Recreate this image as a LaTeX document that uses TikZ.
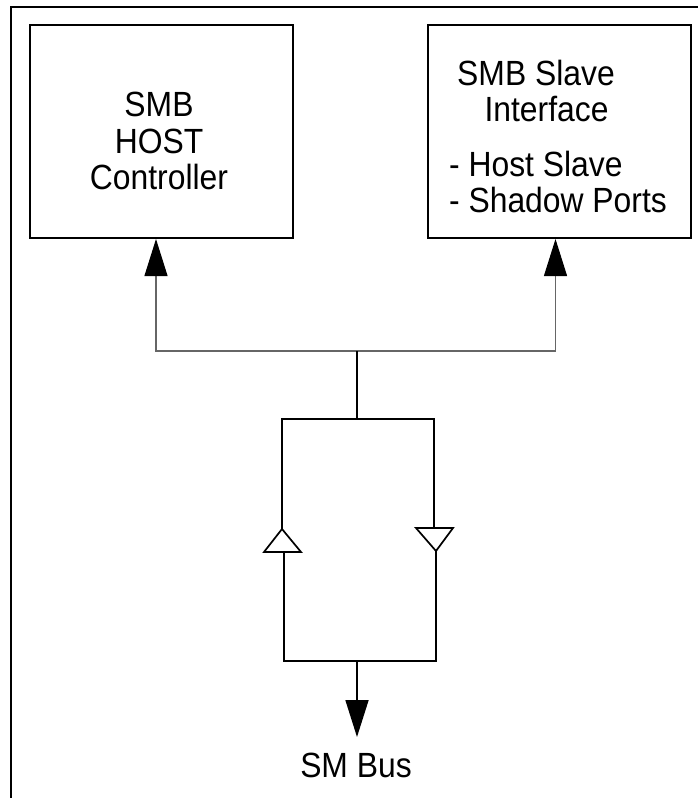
\documentclass[tikz,border=0pt]{standalone}
\usepackage{fontspec}
\setmainfont[FakeStretch=0.91]{Liberation Sans}
\usetikzlibrary{arrows.meta}
\tikzset{
  block/.style={draw, line width=2pt, minimum width=263pt, minimum height=213pt, inner sep=0pt},
  label/.style={inner sep=0pt, align=center, font=\fontsize{35}{36.5}\selectfont},
  wire/.style={line width=1.7pt},
  thinwire/.style={line width=1.1pt, black!60},
  bigtip/.style={-{Triangle[length=37pt, width=23pt, black]}},
  buffer/.style={draw, line width=1.7pt, fill=white, line join=miter}
}
\begin{document}
\begin{tikzpicture}[x=1pt, y=-1pt]
  \useasboundingbox (0,0) rectangle (698,798);

  %% Border.
  \draw [line width=2pt] (10.5,798) -- (10.5,6.5) -- (698,6.5);

  %% The two blocks:
  \node [block, anchor=north west] (host) at (29,24) {};
  \node [block, anchor=north west] (slave) at (427,24) {};
  \node [label] (hosttext) at (159,141) {SMB\\HOST\\Controller};
  \node [label] (slavetitle) at (536,91) {SMB Slave\\\hspace*{0.6em}Interface};
  \node [label, align=left] (slavelist) at (558,182) {- Host Slave\\- Shadow Ports};

  %% The connections to the blocks:
  \coordinate (junction) at (357,351);
  \draw [thinwire, bigtip] (junction) -| ([xshift=-5.5pt]host.south);
  \draw [thinwire, bigtip] (junction) -| ([xshift=-4pt]slave.south);

  %% The two buffers:
  \coordinate (split) at (357,419);
  \coordinate (upbuffer) at (282,529);
  \coordinate (upfoot) at (284,552);
  \coordinate (downbuffer) at (436,551);
  \coordinate (downtop) at (434,528);
  \coordinate (merge) at (357,661);
  \draw [wire] (junction) -- (split);
  \draw [wire] (upbuffer) |- (split) -| (downtop);
  \draw [wire] (upfoot) |- (merge) -| (downbuffer);
  \draw [buffer] (upbuffer) -- (301,552) -- (264,552) -- cycle;
  \draw [buffer] (416,528) -- (453,528) -- (downbuffer) -- cycle;

  %% The bus:
  \node [label] (bus) at (356,765) {SM Bus};
  \coordinate (bustip) at (357,737);
  \draw [wire, bigtip] (merge) -- (bustip);

\end{tikzpicture}
\end{document}
